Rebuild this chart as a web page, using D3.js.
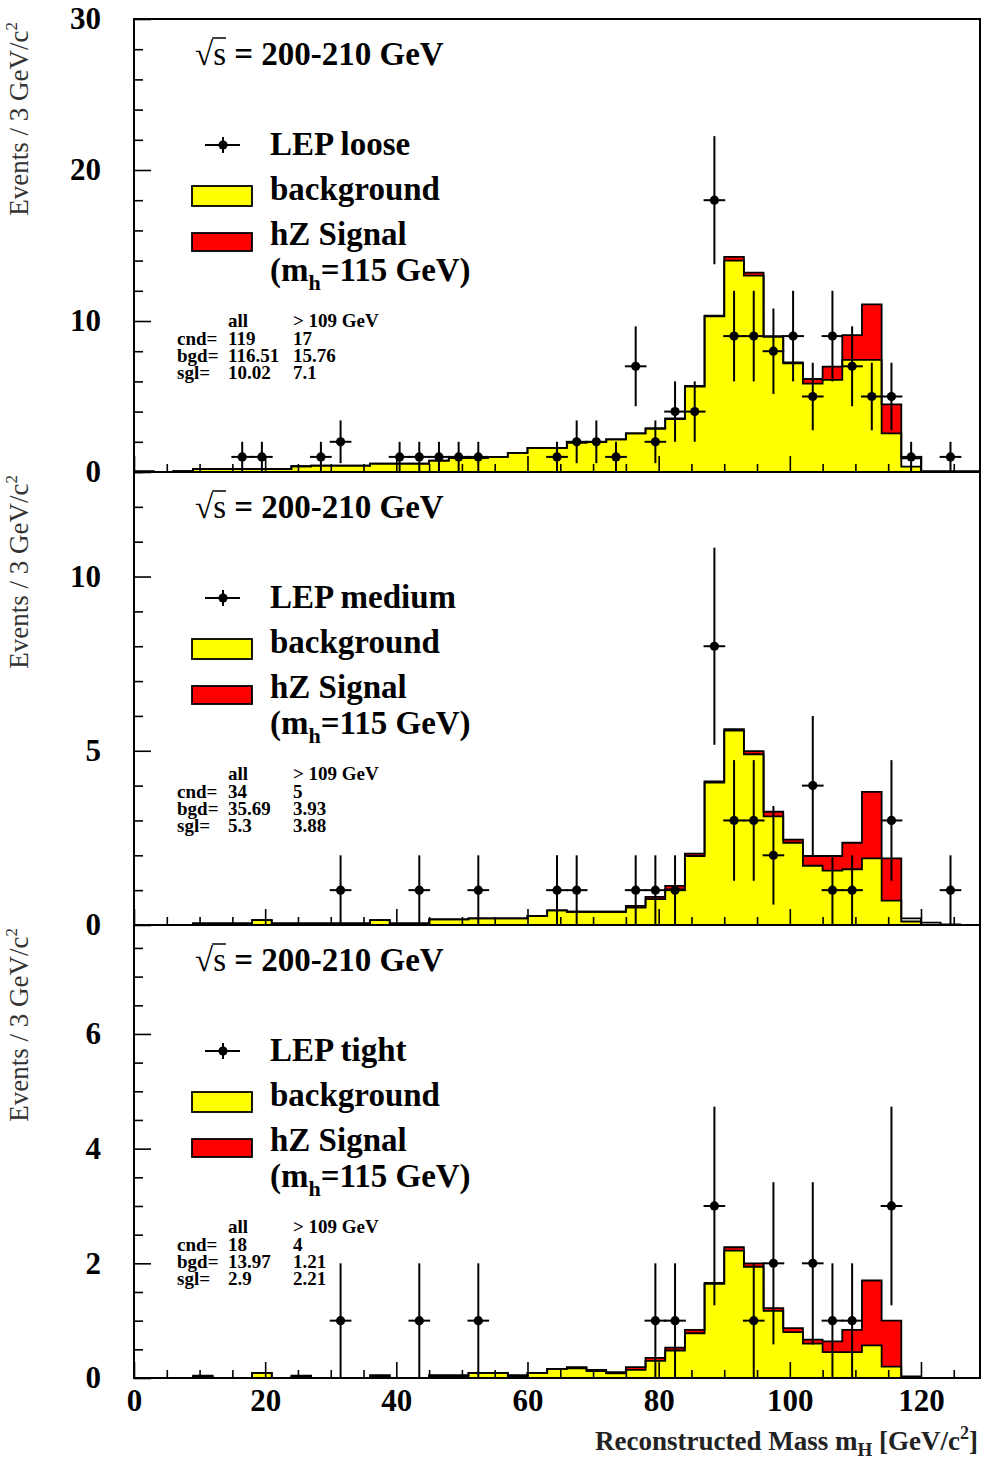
<!DOCTYPE html>
<html>
<head>
<meta charset="utf-8">
<script src="https://cdn.jsdelivr.net/npm/d3@7"></script>
<style>
  body { margin: 0; background: #fff; }
  svg { display: block; font-family: "Liberation Serif", "DejaVu Serif", serif; }
</style>
</head>
<body>
<svg id="chart" width="983" height="1465"></svg>
<script>
// 43 bins of 3 GeV, 0 - 129 GeV
const binWidth = 3;
const massMax = 129;
const signalFillMax = 117; // red fill drawn up to this mass

// background per bin (yellow)
const bgLoose = [0.04, 0, 0.05, 0.2, 0.2, 0.2, 0.2, 0.2, 0.38, 0.42,
  0.42, 0.42, 0.55, 0.55, 0.55, 0.75, 0.93, 0.93, 1.0, 1.26,
  1.6, 1.6, 1.95, 2.0, 2.16, 2.56, 2.85, 3.5, 5.65, 10.3,
  14.0, 13.0, 8.95, 7.2, 5.85, 6.1, 7.42, 7.42, 2.56, 0.35,
  0, 0, 0];
const bgMedium = [0, 0, 0, 0.03, 0.03, 0.03, 0.14, 0.03, 0.03, 0.03,
  0.03, 0.03, 0.14, 0.03, 0.03, 0.16, 0.16, 0.19, 0.19, 0.19,
  0.26, 0.42, 0.38, 0.38, 0.38, 0.5, 0.74, 1.02, 1.98, 4.09,
  5.58, 4.9, 3.12, 2.36, 1.7, 1.56, 1.6, 1.91, 0.7, 0.1,
  0, 0, 0];
const bgTight = [0, 0, 0, 0.02, 0, 0, 0.09, 0, 0.02, 0,
  0, 0, 0.03, 0, 0, 0.03, 0.03, 0.09, 0.09, 0.03,
  0.09, 0.16, 0.17, 0.12, 0.08, 0.14, 0.3, 0.48, 0.78, 1.64,
  2.22, 1.94, 1.17, 0.8, 0.6, 0.45, 0.45, 0.57, 0.2, 0,
  0, 0, 0];

// hZ signal (mh=115) stacked on the background (red)
const sigLoose = [0, 0, 0, 0, 0, 0, 0, 0, 0, 0,
  0, 0, 0, 0, 0, 0, 0, 0, 0, 0,
  0, 0, 0, 0, 0, 0, 0.05, 0.05, 0.05, 0.05,
  0.25, 0.2, 0.05, 0.06, 0.31, 0.88, 1.65, 3.68, 1.92, 0.55,
  0.05, 0.05, 0.05];
const sigMedium = [0, 0, 0, 0.02, 0.02, 0.02, 0, 0.02, 0.02, 0.02,
  0.02, 0.02, 0, 0.02, 0.02, 0, 0, 0, 0, 0,
  0, 0, 0, 0, 0, 0.05, 0.07, 0.1, 0.07, 0.03,
  0.04, 0.09, 0.13, 0.09, 0.28, 0.42, 0.76, 1.91, 1.21, 0.09,
  0.07, 0.02, 0];
const sigTight = [0, 0, 0, 0.02, 0, 0, 0, 0, 0.02, 0,
  0, 0, 0.02, 0, 0, 0.02, 0.02, 0, 0, 0.02,
  0, 0, 0.02, 0.02, 0.02, 0.05, 0.05, 0.05, 0.06, 0.02,
  0.06, 0.06, 0.05, 0.07, 0.07, 0.19, 0.39, 1.13, 0.8, 0.03,
  0, 0, 0];

// observed candidates per bin
const cndLoose = [0, 0, 0, 0, 0, 1, 1, 0, 0, 1,
  2, 0, 0, 1, 1, 1, 1, 1, 0, 0,
  0, 1, 2, 2, 1, 7, 2, 4, 4, 18,
  9, 9, 8, 9, 5, 9, 7, 5, 5, 1,
  0, 1, 0];
const cndMedium = [0, 0, 0, 0, 0, 0, 0, 0, 0, 0,
  1, 0, 0, 0, 1, 0, 0, 1, 0, 0,
  0, 1, 1, 0, 0, 1, 1, 1, 0, 8,
  3, 3, 2, 0, 4, 1, 1, 0, 3, 0,
  0, 1, 0];
const cndTight = [0, 0, 0, 0, 0, 0, 0, 0, 0, 0,
  1, 0, 0, 0, 1, 0, 0, 1, 0, 0,
  0, 0, 0, 0, 0, 0, 1, 1, 0, 3,
  0, 1, 2, 0, 2, 1, 1, 0, 3, 0,
  0, 0, 0];

// small stats table in each panel
const statLabels = ["cnd=", "bgd=", "sgl="];
const statsLooseAll = ["119", "116.51", "10.02"];
const statsLooseHigh = ["17", "15.76", "7.1"];
const statsMediumAll = ["34", "35.69", "5.3"];
const statsMediumHigh = ["5", "3.93", "3.88"];
const statsTightAll = ["18", "13.97", "2.9"];
const statsTightHigh = ["4", "1.21", "2.21"];

const xTicksMajor = [0, 20, 40, 60, 80, 100, 120];
const xTicksMinor = d3.range(5, 126, 5).filter(v => v % 20 !== 0);

const svg = d3.select("#chart");
const x = d3.scaleLinear().domain([0, massMax]).range([134, 980]);

const panels = [
  { label: "LEP loose", bg: bgLoose, sig: sigLoose, cnd: cndLoose, all: statsLooseAll, high: statsLooseHigh,
    top: 19, bottom: 472, ymax: 30, major: 10, minor: 2 },
  { label: "LEP medium", bg: bgMedium, sig: sigMedium, cnd: cndMedium, all: statsMediumAll, high: statsMediumHigh,
    top: 472, bottom: 925, ymax: 13, major: 5, minor: 1 },
  { label: "LEP tight", bg: bgTight, sig: sigTight, cnd: cndTight, all: statsTightAll, high: statsTightHigh,
    top: 925, bottom: 1378, ymax: 7.9, major: 2, minor: 0.5 }
];

// histogram values -> points for a step curve
function steps(vals) {
  const pts = vals.map((v, i) => [i * binWidth, v]);
  pts.push([vals.length * binWidth, vals[vals.length - 1]]);
  return pts;
}

panels.forEach(function (p, k) {
  const y = d3.scaleLinear().domain([0, p.ymax]).range([p.bottom, p.top]);
  const g = svg.append("g");

  const area = d3.area().curve(d3.curveStepAfter)
    .x(d => x(d[0])).y0(y(0)).y1(d => y(d[1]));
  const line = d3.line().curve(d3.curveStepAfter)
    .x(d => x(d[0])).y(d => y(d[1]));

  const tot = p.bg.map((v, i) => v + p.sig[i]);
  const redTop = tot.map((v, i) => ((i + 1) * binWidth <= signalFillMax ? v : p.bg[i]));

  g.append("path").attr("d", area(steps(redTop))).attr("fill", "#ff0000");
  g.append("path").attr("d", area(steps(p.bg))).attr("fill", "#ffff00");
  g.append("path").attr("d", line(steps(p.bg)))
    .attr("fill", "none").attr("stroke", "#000").attr("stroke-width", 1.8);
  g.append("path").attr("d", line(steps(tot)))
    .attr("fill", "none").attr("stroke", "#000").attr("stroke-width", 1.8);

  // y axis ticks (pointing inwards)
  const yMajorVals = d3.range(0, p.ymax + 1e-6, p.major);
  const yMinorVals = d3.range(0, p.ymax + 1e-6, p.minor)
    .filter(v => Math.abs(v / p.major - Math.round(v / p.major)) > 1e-6);

  g.append("g").attr("transform", "translate(134,0)")
    .call(d3.axisLeft(y).tickValues(yMinorVals).tickSize(-9).tickFormat(""))
    .call(a => a.select(".domain").remove());
  g.append("g").attr("transform", "translate(134,0)")
    .call(d3.axisLeft(y).tickValues(yMajorVals).tickSize(-17).tickPadding(33).tickFormat(d3.format("d")))
    .call(a => a.select(".domain").remove())
    .attr("font-size", 31).attr("font-family", "Liberation Serif").attr("font-weight", "bold");

  // x axis ticks on each panel bottom
  g.append("g").attr("transform", "translate(0," + p.bottom + ")")
    .call(d3.axisBottom(x).tickValues(xTicksMinor).tickSize(-8).tickFormat(""))
    .call(a => a.select(".domain").remove());
  const xMajor = d3.axisBottom(x).tickValues(xTicksMajor).tickSize(-16).tickPadding(11);
  if (k < 2) xMajor.tickFormat("");
  g.append("g").attr("transform", "translate(0," + p.bottom + ")")
    .call(xMajor)
    .call(a => a.select(".domain").remove())
    .attr("font-size", 31).attr("font-family", "Liberation Serif").attr("font-weight", "bold");

  g.selectAll(".tick line").attr("stroke-width", 1.6);

  // frame
  g.append("rect")
    .attr("x", x(0)).attr("y", p.top)
    .attr("width", x(massMax) - x(0)).attr("height", p.bottom - p.top)
    .attr("fill", "none").attr("stroke", "#000").attr("stroke-width", 2);

  // data points with sqrt(n) errors
  const pts = p.cnd.map((n, i) => ({ m: i * binWidth + binWidth / 2, n: n })).filter(d => d.n > 0);
  const dots = g.append("g").attr("stroke", "#000").attr("stroke-width", 2);
  dots.selectAll(".ev").data(pts).join("line")
    .attr("x1", d => x(d.m)).attr("x2", d => x(d.m))
    .attr("y1", d => y(d.n - Math.sqrt(d.n))).attr("y2", d => y(d.n + Math.sqrt(d.n)));
  dots.selectAll(".eh").data(pts).join("line")
    .attr("x1", d => x(d.m - binWidth / 2) - 1).attr("x2", d => x(d.m + binWidth / 2) + 1)
    .attr("y1", d => y(d.n)).attr("y2", d => y(d.n));
  g.selectAll(".pt").data(pts).join("circle")
    .attr("cx", d => x(d.m)).attr("cy", d => y(d.n)).attr("r", 4.6).attr("fill", "#000");

  // y axis title
  const yt = g.append("text")
    .attr("transform", "translate(28," + (p.top + 3) + ") rotate(-90)")
    .attr("text-anchor", "end").attr("font-size", 27).attr("fill", "#333");
  yt.append("tspan").text("Events / 3 GeV/c");
  yt.append("tspan").attr("font-size", 17).attr("dy", -11).text("2");

  // sqrt(s) label
  const st = g.append("text")
    .attr("x", 195).attr("y", p.top + 46)
    .attr("font-size", 33).attr("fill", "#000");
  st.append("tspan").text("\u221A");
  st.append("tspan").text("s");
  st.append("tspan").attr("font-weight", "bold").text(" = 200-210 GeV");
  const sNode = st.node();
  const s0 = sNode.getStartPositionOfChar(1).x;
  const s1 = sNode.getEndPositionOfChar(1).x;
  g.append("line").attr("x1", s0 - 1).attr("x2", s1)
    .attr("y1", p.top + 19).attr("y2", p.top + 19)
    .attr("stroke", "#000").attr("stroke-width", 1.5);

  // legend
  const leg = g.append("g").attr("font-size", 33).attr("font-weight", "bold");
  const my = p.top + 126;
  leg.append("line").attr("x1", 205).attr("x2", 240).attr("y1", my).attr("y2", my)
    .attr("stroke", "#000").attr("stroke-width", 2);
  leg.append("line").attr("x1", 223).attr("x2", 223).attr("y1", my - 8).attr("y2", my + 8)
    .attr("stroke", "#000").attr("stroke-width", 2);
  leg.append("circle").attr("cx", 223).attr("cy", my).attr("r", 4.6).attr("fill", "#000");
  leg.append("text").attr("x", 270).attr("y", p.top + 136).text(p.label);

  leg.append("rect").attr("x", 192).attr("y", p.top + 167).attr("width", 60).attr("height", 20)
    .attr("fill", "#ffff00").attr("stroke", "#000").attr("stroke-width", 1.8);
  leg.append("text").attr("x", 270).attr("y", p.top + 181).text("background");

  leg.append("rect").attr("x", 192).attr("y", p.top + 214).attr("width", 60).attr("height", 18)
    .attr("fill", "#ff0000").attr("stroke", "#000").attr("stroke-width", 1.8);
  leg.append("text").attr("x", 270).attr("y", p.top + 226).text("hZ Signal");

  const mh = leg.append("text").attr("x", 270).attr("y", p.top + 262);
  mh.append("tspan").text("(m");
  mh.append("tspan").attr("font-size", 22).attr("dy", 9).text("h");
  mh.append("tspan").attr("dy", -9).text("=115 GeV)");

  // stats table
  const tb = g.append("g").attr("font-size", 19).attr("font-weight", "bold");
  tb.append("text").attr("x", 228).attr("y", p.top + 308).text("all");
  tb.append("text").attr("x", 293).attr("y", p.top + 308).text("> 109 GeV");
  statLabels.forEach(function (lab, r) {
    const yy = p.top + 326 + r * 17;
    tb.append("text").attr("x", 177).attr("y", yy).text(lab);
    tb.append("text").attr("x", 228).attr("y", yy).text(p.all[r]);
    tb.append("text").attr("x", 293).attr("y", yy).text(p.high[r]);
  });
});

// x axis title
const xt = svg.append("text")
  .attr("x", 978).attr("y", 1450)
  .attr("text-anchor", "end").attr("font-size", 27).attr("font-weight", "bold").attr("fill", "#222");
xt.append("tspan").text("Reconstructed Mass m");
xt.append("tspan").attr("font-size", 19).attr("dy", 6).text("H");
xt.append("tspan").attr("dy", -6).text(" [GeV/c");
xt.append("tspan").attr("font-size", 18).attr("dy", -11).text("2");
xt.append("tspan").attr("dy", 11).text("]");
</script>
</body>
</html>
